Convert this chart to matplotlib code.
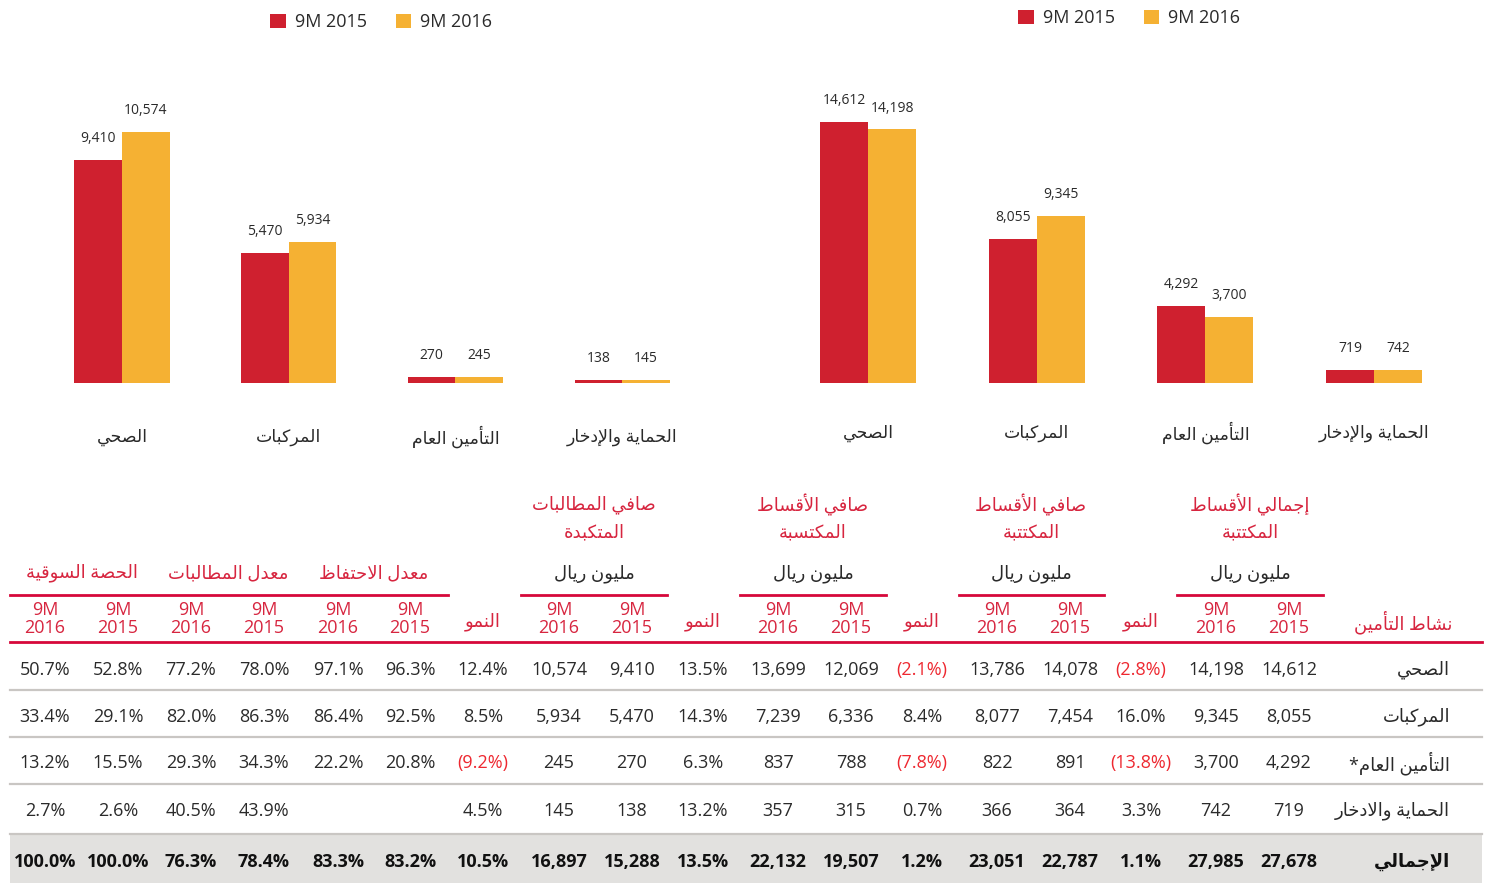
import numpy as np
import matplotlib
matplotlib.use("Agg")
import matplotlib.pyplot as plt
from matplotlib.patches import Rectangle

plt.rcParams['font.family'] = ['Open Sans', 'DejaVu Sans']

# ---------------- data ----------------
bar_categories = ['الصحي', 'المركبات', 'التأمين العام', 'الحماية والإدخار']
nci_bars_2015 = [9410, 5470, 270, 138]
nci_bars_2016 = [10574, 5934, 245, 145]
gwp_bars_2015 = [14612, 8055, 4292, 719]
gwp_bars_2016 = [14198, 9345, 3700, 742]

row_labels = ['الصحي', 'المركبات', 'التأمين العام*', 'الحماية والادخار', 'الإجمالي']
gross_2015 = [14612, 8055, 4292, 719, 27678]
gross_2016 = [14198, 9345, 3700, 742, 27985]
gross_growth = [-2.8, 16.0, -13.8, 3.3, 1.1]
nwp_2015 = [14078, 7454, 891, 364, 22787]
nwp_2016 = [13786, 8077, 822, 366, 23051]
nwp_growth = [-2.1, 8.4, -7.8, 0.7, 1.2]
nep_2015 = [12069, 6336, 788, 315, 19507]
nep_2016 = [13699, 7239, 837, 357, 22132]
nep_growth = [13.5, 14.3, 6.3, 13.2, 13.5]
nci_2015 = [9410, 5470, 270, 138, 15288]
nci_2016 = [10574, 5934, 245, 145, 16897]
nci_growth = [12.4, 8.5, -9.2, 4.5, 10.5]
retention_2015 = [96.3, 92.5, 20.8, None, 83.2]
retention_2016 = [97.1, 86.4, 22.2, None, 83.3]
loss_2015 = [78.0, 86.3, 34.3, 43.9, 78.4]
loss_2016 = [77.2, 82.0, 29.3, 40.5, 76.3]
share_2015 = [52.8, 29.1, 15.5, 2.6, 100.0]
share_2016 = [50.7, 33.4, 13.2, 2.7, 100.0]

money_groups = [['صافي المطالبات', 'المتكبدة'], ['صافي الأقساط', 'المكتسبة'],
                ['صافي الأقساط', 'المكتتبة'], ['إجمالي الأقساط', 'المكتتبة']]
pct_groups = ['الحصة السوقية', 'معدل المطالبات', 'معدل الاحتفاظ']
unit_label = 'مليون ريال'
growth_label = 'النمو'
activity_label = 'نشاط التأمين'
legend_labels = ['9M 2015', '9M 2016']

RED = '#CF202F'
YELLOW = '#F5B133'
HEAD_RED = '#D7253F'
LINE_RED = '#D6083A'
NEG_RED = '#EE2830'
TXT = '#2A2A2A'

# ---------------- arabic shaping (no raqm in matplotlib) ----------------
_letters = [('ء', 0xFE80, 1), ('آ', 0xFE81, 2), ('أ', 0xFE83, 2), ('ؤ', 0xFE85, 2),
            ('إ', 0xFE87, 2), ('ئ', 0xFE89, 4), ('ا', 0xFE8D, 2), ('ب', 0xFE8F, 4),
            ('ة', 0xFE93, 2), ('ت', 0xFE95, 4), ('ث', 0xFE99, 4), ('ج', 0xFE9D, 4),
            ('ح', 0xFEA1, 4), ('خ', 0xFEA5, 4), ('د', 0xFEA9, 2), ('ذ', 0xFEAB, 2),
            ('ر', 0xFEAD, 2), ('ز', 0xFEAF, 2), ('س', 0xFEB1, 4), ('ش', 0xFEB5, 4),
            ('ص', 0xFEB9, 4), ('ض', 0xFEBD, 4), ('ط', 0xFEC1, 4), ('ظ', 0xFEC5, 4),
            ('ع', 0xFEC9, 4), ('غ', 0xFECD, 4), ('ف', 0xFED1, 4), ('ق', 0xFED5, 4),
            ('ك', 0xFED9, 4), ('ل', 0xFEDD, 4), ('م', 0xFEE1, 4), ('ن', 0xFEE5, 4),
            ('ه', 0xFEE9, 4), ('و', 0xFEED, 2), ('ى', 0xFEEF, 2), ('ي', 0xFEF1, 4)]
FORMS = {c: (b, n) for c, b, n in _letters}
LAM_ALEF = {'آ': 0xFEF5, 'أ': 0xFEF7, 'إ': 0xFEF9, 'ا': 0xFEFB}


def ar(text):
    toks = []
    i = 0
    while i < len(text):
        c = text[i]
        if c == 'ل' and i + 1 < len(text) and text[i + 1] in LAM_ALEF:
            toks.append(('LA', text[i + 1]))
            i += 2
        else:
            toks.append((c, None))
            i += 1

    def joins_next(t):
        return t[0] != 'LA' and t[0] in FORMS and FORMS[t[0]][1] == 4

    def joins_prev(t):
        return t[0] == 'LA' or (t[0] in FORMS and FORMS[t[0]][1] >= 2)

    out = []
    for k, t in enumerate(toks):
        p = k > 0 and joins_next(toks[k - 1]) and joins_prev(t)
        nx = k + 1 < len(toks) and joins_next(t) and joins_prev(toks[k + 1])
        if t[0] == 'LA':
            out.append(chr(LAM_ALEF[t[1]] + (1 if p else 0)))
        elif t[0] in FORMS:
            b, n = FORMS[t[0]]
            if n == 1:
                out.append(chr(b))
            elif n == 2:
                out.append(chr(b + 1) if p else chr(b))
            else:
                if p and nx:
                    out.append(chr(b + 3))
                elif p:
                    out.append(chr(b + 1))
                elif nx:
                    out.append(chr(b + 2))
                else:
                    out.append(chr(b))
        else:
            out.append(t[0])
    return ''.join(out[::-1])


# ---------------- figure ----------------
W, H = 1497, 883
fig = plt.figure(figsize=(W / 100, H / 100), dpi=100)

# table layer in pixel coordinates
ax_t = fig.add_axes([0, 0, 1, 1])
ax_t.set_xlim(0, W)
ax_t.set_ylim(H, 0)
ax_t.axis('off')


def bar_chart(ax, v15, v16, left_px, px_per_unit, ymax, pad):
    x = np.arange(len(bar_categories))
    w = 0.285
    b1 = ax.bar(x - w / 2, v15, w, color=RED, label=legend_labels[0])
    b2 = ax.bar(x + w / 2, v16, w, color=YELLOW, label=legend_labels[1])
    for b in (b1, b2):
        ax.bar_label(b, labels=[f'{v:,}' for v in b.datavalues], padding=10,
                     fontsize=10, color=TXT)
    ax.set_ylim(0, ymax)
    ax.set_xlim(-left_px / px_per_unit, (710 - left_px) / px_per_unit)
    ax.set_xticks(x, [ar(c) for c in bar_categories], fontsize=12.5, color=TXT)
    ax.tick_params(axis='x', length=0, pad=pad)
    for lbl in ax.get_xticklabels():
        lbl.set_va('center')
    ax.set_yticks([])
    for s in ax.spines.values():
        s.set_visible(False)
    ax.patch.set_alpha(0)
    return b1, b2


ax1 = fig.add_axes([10 / W, (H - 383) / H, 710 / W, 323 / H])
h1 = bar_chart(ax1, nci_bars_2015, nci_bars_2016, 112, 166.7, 323 / 0.02374, 39)
ax2 = fig.add_axes([780 / W, (H - 383) / H, 710 / W, 323 / H])
h2 = bar_chart(ax2, gwp_bars_2015, gwp_bars_2016, 88, 168.7, 323 / 0.01786, 36)

for hh, anchor in ((h1, (254 / W, 1 + 3 / H)), (h2, (1002 / W, 1 + 7 / H))):
    fig.legend(hh, legend_labels, loc='upper left', bbox_to_anchor=anchor,
               ncol=2, frameon=False, fontsize=13, handlelength=0.85,
               handleheight=0.85, handletextpad=0.5, columnspacing=1.6,
               labelcolor=TXT)

# ---------------- table ----------------
row_y = [670, 717, 763, 811, 862]
x0, x1 = 10, 1482

ax_t.add_patch(Rectangle((x0, 834), x1 - x0, 49, color='#E2E1DF', lw=0, zorder=0))
for y in [690, 737, 784, 834]:
    ax_t.plot([x0, x1], [y, y], color='#C9C6C3', lw=1.6, zorder=1)
ax_t.plot([x0, x1], [642, 642], color=LINE_RED, lw=2.0, zorder=1)

# group underline segments
for a, b in [(10, 448), (521, 667), (740, 886), (959, 1104), (1177, 1323)]:
    ax_t.plot([a, b], [595, 595], color=LINE_RED, lw=2.0)

for cx, g in zip([594, 813, 1031, 1250], money_groups):
    ax_t.text(cx, 505, ar(g[0]), ha='center', va='center', fontsize=13, color=HEAD_RED)
    ax_t.text(cx, 532, ar(g[1]), ha='center', va='center', fontsize=13, color=HEAD_RED)
    ax_t.text(cx, 574, ar(unit_label), ha='center', va='center', fontsize=13, color=TXT)

for cx, g in zip([82, 228, 374], pct_groups):
    ax_t.text(cx, 573, ar(g), ha='center', va='center', fontsize=13, color=HEAD_RED)

ax_t.text(1452, 622, ar(activity_label), ha='right', va='center', fontsize=13,
          color=HEAD_RED)


def fmt_pct(v):
    return '' if v is None else f'{v:.1f}%'


def fmt_num(v):
    return f'{v:,}'


def fmt_growth(v):
    return f'({abs(v):.1f}%)' if v < 0 else f'{v:.1f}%'


columns = [
    (45, share_2016, 'pct', '2016'), (118, share_2015, 'pct', '2015'),
    (191, loss_2016, 'pct', '2016'), (264, loss_2015, 'pct', '2015'),
    (338, retention_2016, 'pct', '2016'), (410, retention_2015, 'pct', '2015'),
    (483, nci_growth, 'growth', None),
    (559, nci_2016, 'num', '2016'), (632, nci_2015, 'num', '2015'),
    (703, nep_growth, 'growth', None),
    (778, nep_2016, 'num', '2016'), (851, nep_2015, 'num', '2015'),
    (922, nwp_growth, 'growth', None),
    (997, nwp_2016, 'num', '2016'), (1070, nwp_2015, 'num', '2015'),
    (1141, gross_growth, 'growth', None),
    (1216, gross_2016, 'num', '2016'), (1289, gross_2015, 'num', '2015'),
]

for cx, vals, kind, yr in columns:
    if kind == 'growth':
        ax_t.text(cx, 622, ar(growth_label), ha='center', va='center', fontsize=13,
                  color=HEAD_RED)
    else:
        ax_t.text(cx, 619, f'9M\n{yr}', ha='center', va='center', fontsize=13,
                  color=HEAD_RED, linespacing=0.95)
    for i, (v, y) in enumerate(zip(vals, row_y)):
        if kind == 'pct':
            s, col = fmt_pct(v), TXT
        elif kind == 'num':
            s, col = fmt_num(v), TXT
        else:
            s, col = fmt_growth(v), (NEG_RED if v < 0 else TXT)
        bold = i == len(row_y) - 1
        if bold:
            col = '#111111'
        ax_t.text(cx, y, s, ha='center', va='center', fontsize=13, color=col,
                  fontweight='bold' if bold else 'normal')

for i, (lab, y) in enumerate(zip(row_labels, row_y)):
    bold = i == len(row_labels) - 1
    ax_t.text(1450, y, ar(lab), ha='right', va='center', fontsize=13,
              color='#111111' if bold else TXT,
              fontweight='bold' if bold else 'normal')

fig.savefig('out.png', dpi=100)
